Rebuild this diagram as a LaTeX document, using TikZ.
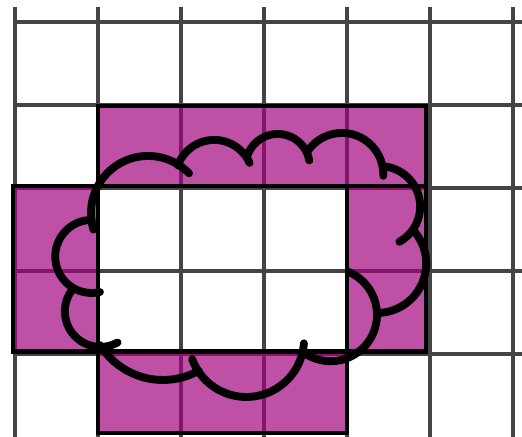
\documentclass[tikz,border=0pt]{standalone}
\usepackage{tikz}
\definecolor{cellpurple}{RGB}{161,1,125}
\definecolor{gridgray}{RGB}{68,68,68}
\tikzset{
    gridline/.style={draw=gridgray, line width=1.2pt},
    cell/.style={fill=cellpurple, fill opacity=0.69},
    cellborder/.style={draw=black, line width=1.4pt},
    bump/.style={draw=black, line width=2.7pt, line cap=round}
}

\begin{document}
\begin{tikzpicture}
    \useasboundingbox (-0.181,0) rectangle (6.108,5.265);

    \foreach \i in {0,...,6}
        \draw[gridline] (\i,0) -- (\i,5.18);
    \foreach \j in {1,...,5}
        \draw[gridline] (0,\j) -- (6.108,\j);

    \coordinate (topA) at (1.0,3.02);
    \coordinate (topB) at (4.95,3.99);
    \coordinate (leftA) at (-0.02,1.03);
    \coordinate (leftB) at (1.0,3.02);
    \coordinate (rightA) at (4.0,1.03);
    \coordinate (rightB) at (4.95,3.02);
    \coordinate (botA) at (1.0,0.05);
    \coordinate (botB) at (4.0,1.03);

    \foreach \p in {top,left,right,bot}
        \fill[cell] (\p A) rectangle (\p B);
    \foreach \p in {top,left,right,bot}
        \draw[cellborder] (\p A) rectangle (\p B);

    \foreach \cx/\cy/\r/\a/\b in {
        1.602/2.699/0.687/197/44,
        2.400/3.113/0.466/160/24,
        3.165/3.265/0.386/164/10,
        3.939/3.165/0.498/148/-2,
        4.395/2.777/0.486/86/-61,
        4.358/2.090/0.596/43/-88,
        3.801/1.473/0.560/67/-127,
        2.787/1.177/0.695/-4/-160,
        1.782/1.577/0.890/-61/-148,
        1.028/1.513/0.428/-61/-217,
        0.924/2.175/0.440/-77/-270}
        \draw[bump, shift={(\cx,\cy)}] (\a:\r) arc[start angle=\a, end angle=\b, radius=\r];
\end{tikzpicture}
\end{document}
